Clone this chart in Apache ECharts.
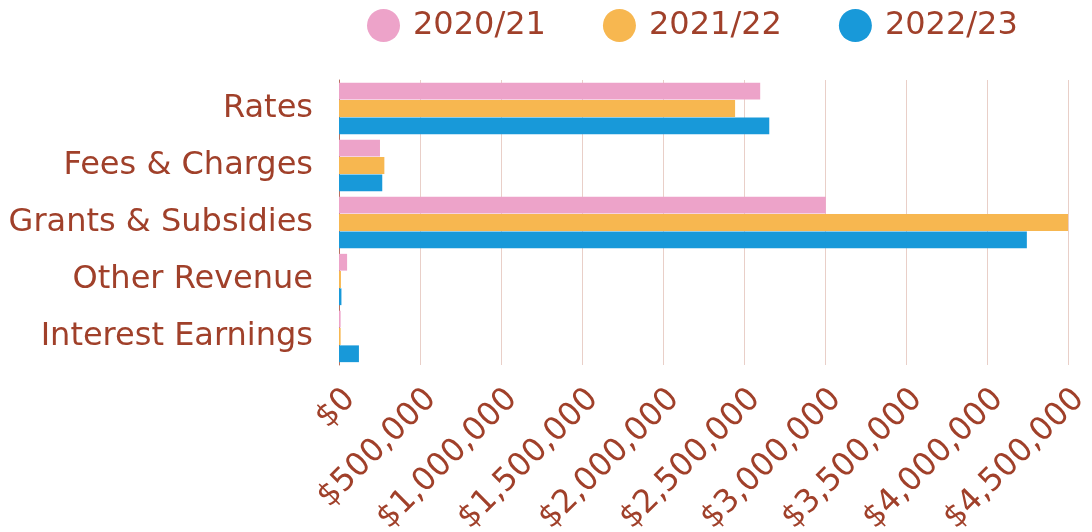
<!DOCTYPE html>
<html>
<head>
<meta charset="utf-8">
<script src="https://cdn.jsdelivr.net/npm/echarts@6/dist/echarts.min.js"></script>
<style>
html,body{margin:0;padding:0;background:#fff;}
#chart{width:1092px;height:532px;}
</style>
</head>
<body>
<div id="chart"></div>
<script>
const categories = ["Rates", "Fees & Charges", "Grants & Subsidies", "Other Revenue", "Interest Earnings"];
const seriesNames = ["2020/21", "2021/22", "2022/23"];
const values2021 = [2600000, 253000, 3005000, 50000, 10000];
const values2122 = [2445000, 280000, 4500000, 12000, 10000];
const values2223 = [2656000, 267000, 4246000, 15000, 123000];
const xTicks = [0, 500000, 1000000, 1500000, 2000000, 2500000, 3000000, 3500000, 4000000, 4500000];
const colors = ["#EDA3C9", "#F7B750", "#1899D9"];

const textColor = "#A0402A";
const font = "DejaVu Sans";

const chart = echarts.init(document.getElementById('chart'), null, {renderer: 'canvas'});
const fmt = v => '$' + v.toLocaleString('en-US');
const allSeries = [values2021, values2122, values2223];

chart.setOption({
  animation: false,
  color: colors,
  legend: {
    left: 362,
    top: 4,
    icon: 'circle',
    itemWidth: 33,
    itemHeight: 33,
    itemGap: 57,
    textStyle: {color: textColor, fontSize: 32, fontFamily: font, padding: [0, 0, 0, 8]},
    data: seriesNames
  },
  grid: {left: 339, right: 24, top: 80, bottom: 167, containLabel: false, outerBoundsMode: 'none'},
  xAxis: {
    type: 'value',
    min: xTicks[0],
    max: xTicks[xTicks.length - 1],
    interval: xTicks[1] - xTicks[0],
    axisLine: {show: false},
    axisTick: {show: false},
    splitLine: {show: true, lineStyle: {color: '#E9CFC8', width: 1}},
    axisLabel: {
      rotate: 45,
      color: textColor,
      fontSize: 32,
      fontFamily: font,
      margin: 18,
      verticalAlign: 'top',
      formatter: fmt
    }
  },
  yAxis: {
    type: 'category',
    inverse: true,
    data: categories,
    axisLine: {show: true, lineStyle: {color: '#B7715F', width: 1}},
    axisTick: {show: false},
    axisLabel: {color: textColor, fontSize: 32, fontFamily: font, margin: 26}
  },
  series: seriesNames.map((n, i) => ({
    name: n,
    type: 'bar',
    data: allSeries[i],
    barGap: '3%',
    barCategoryGap: '10%',
    itemStyle: {color: colors[i]}
  }))
});
</script>
</body>
</html>
